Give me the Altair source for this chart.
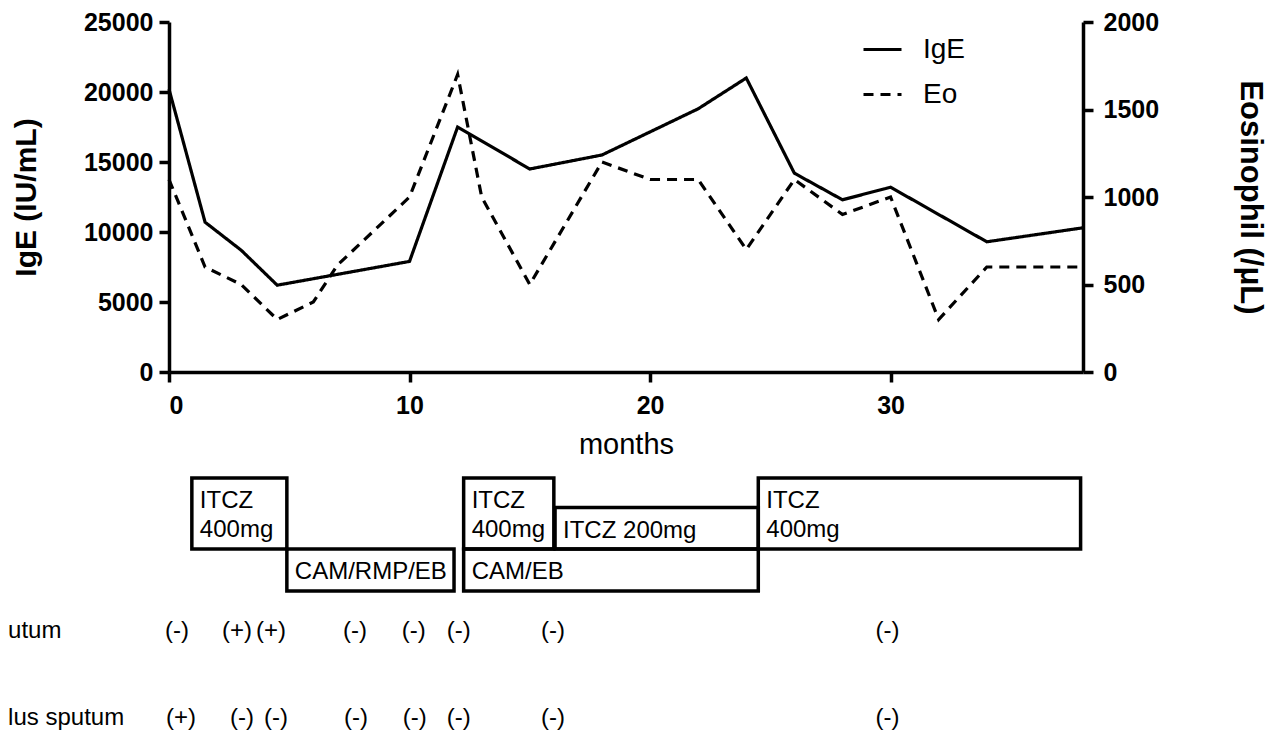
import altair as alt
import pandas as pd

# ---------------- data ----------------
ige_months = [0, 1.5, 3, 4.5, 10, 12, 15, 18, 22, 24, 26, 28, 30, 34, 38]
ige_values = [20200, 10700, 8700, 6200, 7900, 17500, 14500, 15500, 18800, 21000,
              14200, 12300, 13200, 9300, 10300]

eo_months = [0, 1.5, 3, 4.5, 6, 7, 10, 12, 13, 15, 18, 20, 22, 24, 26, 28, 30, 32, 34, 38]
eo_values = [1100, 600, 500, 300, 400, 610, 1000, 1700, 1000, 500, 1200, 1100, 1100,
             700, 1100, 900, 1000, 300, 600, 600]

series_names = ["IgE", "Eo"]

x_ticks = [0, 10, 20, 30]
ige_ticks = [0, 5000, 10000, 15000, 20000, 25000]
eo_ticks = [0, 500, 1000, 1500, 2000]

treat_labels = ["ITCZ\n400mg", "CAM/RMP/EB", "ITCZ\n400mg", "ITCZ 200mg", "CAM/EB", "ITCZ\n400mg"]
treat_start = [0.95, 4.9, 12.25, 16.05, 12.25, 24.5]
treat_end = [4.9, 11.85, 16.0, 24.5, 24.5, 37.9]
treat_lane = ["upper", "lower", "upper", "upper-low", "lower", "upper"]

row_labels = ["utum", "lus sputum"]
cult1_months = [0.33, 2.83, 4.24, 7.73, 10.18, 12.05, 15.96, 29.87]
cult1_results = ["(-)", "(+)", "(+)", "(-)", "(-)", "(-)", "(-)", "(-)"]
cult2_months = [0.5, 3.03, 4.45, 7.77, 10.22, 12.05, 15.96, 29.87]
cult2_results = ["(+)", "(-)", "(-)", "(-)", "(-)", "(-)", "(-)", "(-)"]

# ---------------- layout helpers ----------------
FONT = "Liberation Sans"
lane_top = {"upper": 0, "upper-low": 29.5, "lower": 71}
lane_bottom = {"upper": 71, "upper-low": 71, "lower": 113}
lane_text = {"upper": 30, "upper-low": 60, "lower": 101}
row_y = [153, 240]
label_month = -6.69

ige_df = pd.DataFrame({"month": ige_months, "value": ige_values, "series": series_names[0]})
eo_df = pd.DataFrame({"month": eo_months, "value": eo_values, "series": series_names[1]})

x_scale = alt.Scale(domain=[0, 38], nice=False, zero=False)

dash = alt.StrokeDash(
    "series:N",
    scale=alt.Scale(domain=series_names, range=[[1, 0], [10, 7]]),
    legend=alt.Legend(
        title=None, orient="none", legendX=693, legendY=7,
        symbolType="stroke", symbolSize=1444, symbolStrokeWidth=3,
        symbolStrokeColor="black", labelFont=FONT, labelFontSize=28,
        labelColor="black", labelOffset=20, rowPadding=10,
    ),
)

x_enc = alt.X(
    "month:Q", scale=x_scale,
    axis=alt.Axis(values=x_ticks, title="months", titleFontWeight="normal",
                  titleFontSize=29, titlePadding=12, labelPadding=11),
)

ige_line = alt.Chart(ige_df).mark_line(color="black", strokeWidth=3.2).encode(
    x=x_enc,
    y=alt.Y("value:Q", scale=alt.Scale(domain=[0, 25000], nice=False),
            axis=alt.Axis(orient="left", values=ige_ticks, format="d",
                          title="IgE (IU/mL)", titlePadding=42, labelPadding=6)),
    strokeDash=dash,
)

eo_line = alt.Chart(eo_df).mark_line(color="black", strokeWidth=3.2).encode(
    x=x_enc,
    y=alt.Y("value:Q", scale=alt.Scale(domain=[0, 2000], nice=False),
            axis=alt.Axis(orient="right", values=eo_ticks, format="d",
                          title="Eosinophil (/\u03bcL)", titleFontSize=31,
                          titlePadding=75, labelPadding=10)),
    strokeDash=dash,
)

top = alt.layer(ige_line, eo_line).resolve_scale(y="independent").properties(
    width=914, height=350)

# ---------------- bottom panel ----------------
treat_df = pd.DataFrame({
    "label": treat_labels,
    "start": treat_start,
    "end": treat_end,
    "top": [lane_top[l] for l in treat_lane],
    "bottom": [lane_bottom[l] for l in treat_lane],
    "ty": [lane_text[l] for l in treat_lane],
})

res_df = pd.DataFrame({
    "month": cult1_months + cult2_months,
    "result": cult1_results + cult2_results,
    "y": [row_y[0]] * len(cult1_months) + [row_y[1]] * len(cult2_months),
})

lab_df = pd.DataFrame({"label": row_labels, "month": [label_month] * 2, "y": row_y})

y_bot = alt.Scale(domain=[0, 255], reverse=True, nice=False, zero=False)
xb = lambda f: alt.X(f"{f}:Q", scale=x_scale, axis=None)

boxes = alt.Chart(treat_df).mark_rect(
    fill="white", fillOpacity=0, stroke="black", strokeWidth=3.5
).encode(
    x=xb("start"), x2="end",
    y=alt.Y("top:Q", scale=y_bot, axis=None), y2="bottom",
)

box_text = alt.Chart(treat_df).mark_text(
    align="left", baseline="alphabetic", dx=8, font=FONT, fontSize=24,
    color="black", lineBreak="\n", lineHeight=29,
).encode(
    x=xb("start"), y=alt.Y("ty:Q", scale=y_bot, axis=None), text="label:N",
)

res_text = alt.Chart(res_df).mark_text(
    align="center", baseline="middle", font=FONT, fontSize=24, color="black",
).encode(
    x=xb("month"), y=alt.Y("y:Q", scale=y_bot, axis=None), text="result:N",
)

lab_text = alt.Chart(lab_df).mark_text(
    align="left", baseline="middle", font=FONT, fontSize=24, color="black",
).encode(
    x=xb("month"), y=alt.Y("y:Q", scale=y_bot, axis=None), text="label:N",
)

bottom = alt.layer(boxes, box_text, res_text, lab_text).properties(width=914, height=255)

chart = alt.vconcat(top, bottom, spacing=17).properties(
    padding={"left": 0, "top": 2, "right": 4, "bottom": 5},
    background="white",
).configure_view(stroke=None).configure_axis(
    grid=False, domainColor="black", domainWidth=3.5, tickColor="black",
    tickWidth=3.5, tickSize=10, labelFont=FONT, labelFontSize=25,
    labelFontWeight="bold", labelColor="black", titleFont=FONT,
    titleFontSize=30, titleFontWeight="bold", titleColor="black",
)

chart.save("out.html", embed_options={"renderer": "svg", "actions": False})
